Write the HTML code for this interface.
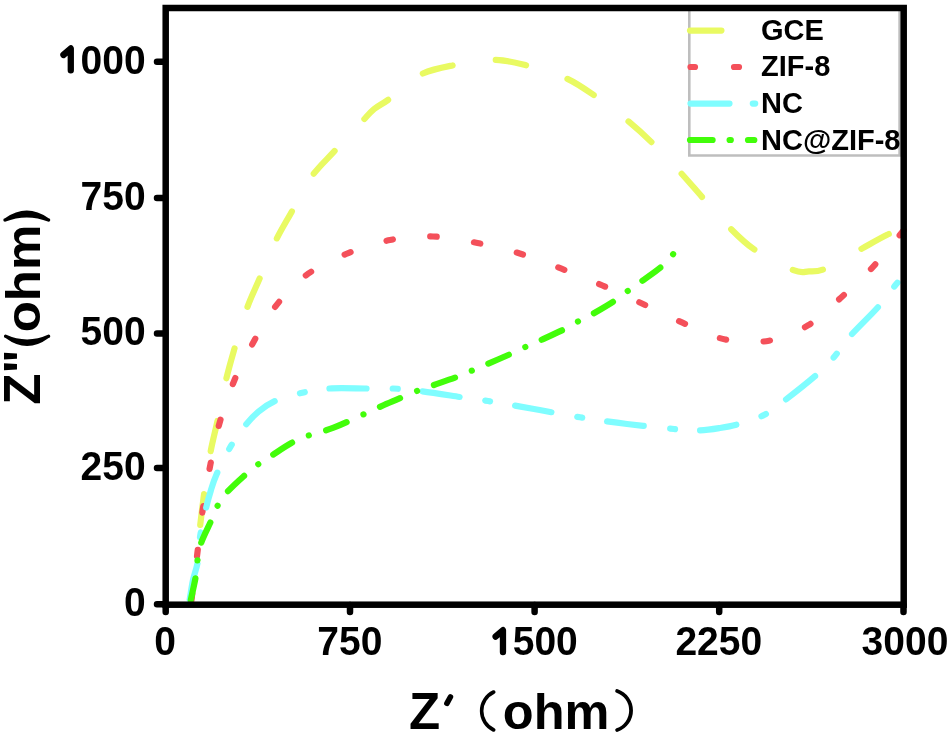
<!DOCTYPE html>
<html><head><meta charset="utf-8"><style>
html,body{margin:0;padding:0;background:#fff;width:950px;height:736px;overflow:hidden}
svg{display:block;filter:blur(0.5px)}
text{font-family:"Liberation Sans",sans-serif;font-weight:bold;fill:#000}
</style></head><body>
<svg width="950" height="736" viewBox="0 0 950 736">
<rect x="0" y="0" width="950" height="736" fill="#fff"/>
<!-- legend box -->
<path d="M689.3,10 L689.3,155.5 L899.6,155.5 L899.6,10" fill="none" stroke="#bebebe" stroke-width="2.6"/>
<!-- curves -->
<g fill="none" stroke-width="6.2" stroke-linecap="round" stroke-linejoin="round">
<path d="M200.0,527.0 C200.7,521.3 202.5,505.4 204.2,493.0 C205.9,480.6 208.2,464.9 210.4,452.7 C212.7,440.5 215.1,432.1 217.7,420.0 C220.3,407.9 223.2,391.9 226.0,380.0 C228.8,368.1 231.1,360.3 234.5,348.5 C237.9,336.7 242.4,320.8 246.7,309.0 C250.9,297.2 255.2,288.9 260.0,277.6 C264.8,266.4 270.0,252.4 275.3,241.5 C280.6,230.6 285.6,222.7 291.6,211.9 C297.6,201.1 304.3,187.0 311.4,176.9 C318.5,166.8 326.0,160.4 334.2,151.4 C342.4,142.4 354.2,129.9 360.8,122.9 C367.4,115.9 369.2,113.2 374.0,109.2 C378.8,105.2 381.7,104.7 389.3,99.0 C396.9,93.3 408.9,80.7 419.8,75.0 C430.7,69.3 442.3,67.5 454.7,65.0 C467.1,62.5 481.8,59.6 494.1,59.8 C506.4,59.9 516.5,62.9 528.4,65.9 C540.3,68.9 554.5,73.0 565.6,78.0 C576.7,83.0 584.8,88.9 594.9,95.9 C605.0,102.9 617.1,112.1 626.5,119.8 C635.9,127.5 642.4,133.3 651.2,141.9 C660.0,150.5 670.8,162.0 679.3,171.2 C687.8,180.4 694.1,188.0 702.1,197.0 C710.1,206.0 718.6,216.6 727.4,225.4 C736.2,234.2 743.7,242.3 754.7,249.8 C765.7,257.3 784.4,266.6 793.4,270.2 C802.4,273.8 803.4,271.7 808.9,271.4 C814.4,271.1 817.6,272.0 826.4,268.2 C835.2,264.4 851.8,254.2 861.9,248.6 C872.0,243.0 880.2,238.2 887.2,234.8 C894.2,231.4 901.2,229.1 904.0,228.0" stroke="#e9fa62" stroke-dasharray="31 43.5" stroke-dashoffset="-2.1"/>
<path d="M191.5,600.0 C192.5,592.0 195.6,567.3 197.5,552.0 C199.4,536.7 200.8,522.7 203.0,508.0 C205.2,493.3 207.7,478.3 210.5,464.0 C213.3,449.7 215.8,436.2 219.8,422.2 C223.8,408.2 228.9,393.4 234.5,380.0 C240.1,366.6 246.8,354.2 253.5,342.0 C260.2,329.8 266.4,318.0 275.0,307.0 C283.6,296.0 293.2,284.8 305.0,276.0 C316.8,267.2 331.8,260.0 346.0,254.0 C360.2,248.0 375.5,242.9 390.0,240.0 C404.5,237.1 418.4,236.0 433.0,236.5 C447.6,237.0 463.0,240.2 477.5,243.0 C492.0,245.8 505.8,249.2 519.8,253.5 C533.8,257.8 547.7,263.4 561.5,268.7 C575.3,274.0 589.0,279.6 602.5,285.5 C616.0,291.4 629.2,297.6 642.5,303.8 C655.8,310.0 668.7,316.8 682.5,322.7 C696.3,328.6 711.0,336.5 725.4,339.5 C739.8,342.5 755.2,343.1 769.0,340.7 C782.8,338.3 796.1,332.5 808.3,325.2 C820.5,317.9 831.1,306.5 842.0,296.7 C852.9,286.9 863.4,277.2 873.7,266.1 C884.0,255.0 899.0,236.0 904.0,230.0" stroke="#f4505a" stroke-dasharray="6.5 37.6" stroke-dashoffset="0.05"/>
<path d="M189.6,600.0 C190.2,596.7 191.7,586.3 193.0,580.0 C194.3,573.7 196.5,569.2 197.7,562.0 C198.9,554.8 198.7,545.8 200.0,537.0 C201.3,528.2 204.0,517.0 205.8,509.2 C207.6,501.4 209.2,495.8 211.0,490.0 C212.8,484.2 213.6,481.1 216.5,474.5 C219.4,467.9 224.2,457.7 228.6,450.1 C232.9,442.5 237.6,435.1 242.6,428.7 C247.6,422.3 252.9,416.4 258.5,411.7 C264.1,407.0 268.7,403.7 276.2,400.5 C283.7,397.3 294.7,394.5 303.5,392.5 C312.3,390.5 318.4,389.2 329.0,388.5 C339.6,387.8 356.4,388.5 367.0,388.5 C377.6,388.5 383.8,388.1 392.6,388.5 C401.4,388.9 408.3,389.5 420.0,391.0 C431.7,392.5 451.3,395.7 462.6,397.4 C473.9,399.1 476.1,399.1 488.0,401.0 C499.9,402.9 518.7,406.3 534.0,409.0 C549.3,411.7 564.5,414.8 580.0,417.3 C595.5,419.8 611.3,422.1 627.0,424.0 C642.7,425.9 662.0,427.9 674.0,429.0 C686.0,430.1 691.3,430.6 699.0,430.4 C706.7,430.2 713.2,429.1 720.0,428.0 C726.8,426.9 732.3,426.0 739.6,423.8 C746.9,421.6 756.5,418.9 764.0,415.0 C771.5,411.1 776.0,407.1 784.5,400.6 C793.0,394.1 806.9,383.2 815.0,376.2 C823.1,369.1 827.2,364.9 833.0,358.3 C838.8,351.7 842.2,345.2 849.7,336.6 C857.2,328.0 870.6,315.5 878.2,306.9 C885.8,298.3 891.2,290.3 895.5,285.0 C899.8,279.7 902.6,276.7 904.0,275.0" stroke="#7ffdff" stroke-dasharray="37 26.25 5 25.15" stroke-dashoffset="-0.55"/>
<path d="M190.8,600.0 C191.6,596.0 194.7,583.1 195.8,576.2 C197.0,569.4 196.8,564.5 197.7,558.9 C198.6,553.3 199.0,549.1 201.2,542.7 C203.4,536.4 208.4,526.9 211.1,520.8 C213.8,514.7 214.9,510.8 217.3,506.2 C219.8,501.6 221.5,498.4 225.8,493.5 C230.2,488.6 238.2,481.2 243.4,476.5 C248.6,471.8 252.5,468.5 257.2,465.0 C261.9,461.5 265.8,459.4 271.5,455.7 C277.2,452.0 285.3,446.3 291.4,443.0 C297.5,439.7 301.0,438.2 308.0,435.7 C315.0,433.1 324.4,431.2 333.6,427.7 C342.8,424.2 354.6,418.4 363.0,414.6 C371.4,410.8 377.7,407.8 384.0,405.0 C390.3,402.2 395.3,400.2 401.0,397.8 C406.7,395.4 412.7,392.7 418.0,390.6 C423.3,388.5 426.1,387.7 432.6,385.4 C439.2,383.1 450.7,379.3 457.3,376.8 C463.9,374.3 467.2,372.6 472.1,370.5 C477.1,368.4 480.5,367.0 487.0,364.2 C493.5,361.4 504.5,356.7 511.0,353.8 C517.5,350.9 521.0,349.0 525.8,346.8 C530.6,344.6 533.7,343.4 540.0,340.5 C546.3,337.6 557.4,332.6 563.7,329.5 C570.0,326.4 573.0,324.2 577.9,321.6 C582.8,319.0 587.0,317.1 593.0,313.7 C599.0,310.3 608.4,304.8 614.2,301.0 C620.0,297.2 623.2,294.3 627.8,291.0 C632.4,287.7 636.2,285.2 641.7,281.2 C647.2,277.2 655.6,271.6 661.0,267.0 C666.4,262.4 671.7,255.7 673.8,253.4" stroke="#42fd0a" stroke-dasharray="22 18.4 0.01 18.09" stroke-dashoffset="0.13"/>
</g>
<!-- legend lines -->
<g fill="none" stroke-width="6.2" stroke-linecap="round">
<path d="M690,30.6 L721.4,30.6" stroke="#e9fa62"/>
<path d="M690.5,67 L695,67 M734,67 L739,67" stroke="#f4505a"/>
<path d="M690.5,103.6 L729.5,103.6 M752.8,103.6 L755.2,103.6" stroke="#7ffdff"/>
<path d="M690,140 L712.6,140 M729.6,140 L730.8,140 M748,140 L754.3,140" stroke="#42fd0a"/>
</g>
<!-- frame -->
<rect x="165.7" y="8" width="738" height="596.7" fill="none" stroke="#000" stroke-width="6.5"/>
<g stroke="#000" stroke-width="6.5" stroke-linecap="round" fill="none">
<path d="M157,61.7 H165 M157,197.9 H165 M157,333.4 H165 M157,468.1 H165 M157,604.3 H165"/>
<path d="M165.7,605 V612 M350,605 V612 M534.6,605 V612 M719.2,605 V612 M903.5,605 V612"/>
</g>
<!-- tick labels -->
<g font-size="39">
<g transform="translate(58.84,73.50) scale(1.000,1.040)"><g transform="translate(0.00,0)"><path d="M4.6,-17.9 L11.95,-24.0 L11.95,-3.15" fill="none" stroke="#000" stroke-width="6.3" stroke-linecap="round" stroke-linejoin="round"/></g><text x="21.69" y="0">000</text></g>
<g transform="translate(80.53,209.70) scale(1.000,1.040)"><text x="0.00" y="0">750</text></g>
<g transform="translate(80.53,345.30) scale(1.000,1.040)"><text x="0.00" y="0">500</text></g>
<g transform="translate(80.53,480.00) scale(1.000,1.040)"><text x="0.00" y="0">250</text></g>
<g transform="translate(123.91,615.90) scale(1.000,1.040)"><text x="0.00" y="0">0</text></g>
<g transform="translate(154.36,655.20) scale(1.000,1.040)"><text x="0.00" y="0">0</text></g>
<g transform="translate(317.27,655.20) scale(1.000,1.040)"><text x="0.00" y="0">750</text></g>
<g transform="translate(491.02,655.20) scale(1.000,1.040)"><g transform="translate(0.00,0)"><path d="M4.6,-17.9 L11.95,-24.0 L11.95,-3.15" fill="none" stroke="#000" stroke-width="6.3" stroke-linecap="round" stroke-linejoin="round"/></g><text x="21.69" y="0">500</text></g>
<g transform="translate(675.42,655.20) scale(1.000,1.040)"><text x="0.00" y="0">2250</text></g>
<g transform="translate(861.62,655.20) scale(1.000,1.040)"><text x="0.00" y="0">3000</text></g>
</g>
<!-- legend text -->
<g font-size="29">
<text x="761" y="39.8">GCE</text>
<text x="761" y="76.2">ZIF-8</text>
<text x="761" y="112.8">NC</text>
<text x="761" y="150.2">NC@ZIF-8</text>
</g>
<!-- axis titles -->
<text font-size="51" transform="translate(40.3,404.7) rotate(-90)">Z"</text>
<text font-size="51" transform="translate(40.3,332.3) rotate(-90) scale(1,0.95)">ohm</text>
<path d="M5.6,334.5 Q27.1,344.3 48.6,334.5 A1.7,1.7 0 0 1 48.6,337.9 Q27.1,353.9 5.6,337.9 A1.7,1.7 0 0 1 5.6,334.5 Z" fill="#000"/>
<path d="M5,218.3 Q26.8,202.9 48.6,218.3 A1.7,1.7 0 0 1 48.6,221.7 Q26.8,213.1 5,221.7 A1.7,1.7 0 0 1 5,218.3 Z" fill="#000"/>
<text font-size="51" x="409.1" y="728.6">Z</text>
<path d="M450.4,697 L446.9,703.4" stroke="#000" stroke-width="5.6" stroke-linecap="round"/>
<text font-size="50.5" x="502.8" y="728.6">ohm</text>
<path d="M493.7,692 A21,21 0 0 0 493.7,730" fill="none" stroke="#000" stroke-width="3.6" stroke-linecap="round"/>
<path d="M617.1,691 A20.6,20.6 0 0 1 617.1,730" fill="none" stroke="#000" stroke-width="3.8" stroke-linecap="round"/>
</svg>
</body></html>
